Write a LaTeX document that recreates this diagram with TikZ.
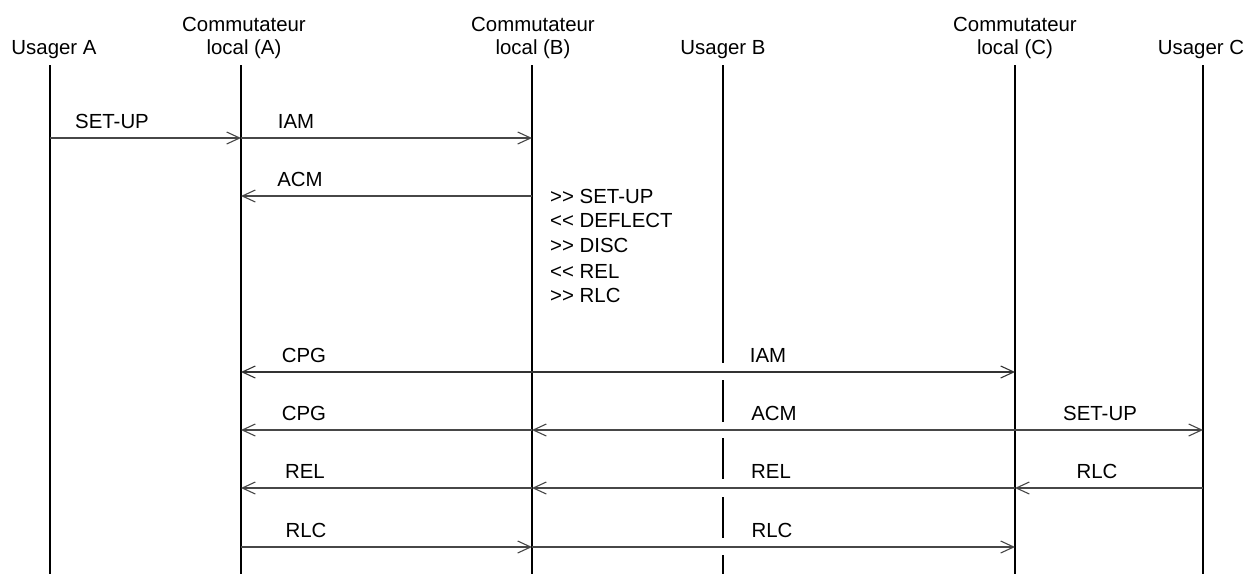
\documentclass[tikz,border=0pt]{standalone}
\usepackage{fontspec}
\setmainfont{Liberation Sans}
\usetikzlibrary{arrows.meta}
\begin{document}
\begin{tikzpicture}[x=1pt,y=-1pt,
  hdr/.style={anchor=base,inner sep=0pt,font=\fontsize{20.4}{24}\selectfont},
  lbl/.style={anchor=base,inner sep=0pt,font=\fontsize{20.4}{24}\selectfont},
  note/.style={anchor=base west,inner sep=0pt,font=\fontsize{20.4}{24}\selectfont},
  life/.style={line width=2pt,black},
  msg/.style={line width=1.1pt,black!72,-{Straight Barb[length=13pt,width=12pt,line width=1.1pt]}},
  msgboth/.style={line width=1.1pt,black!80,{Straight Barb[length=13pt,width=12pt,line width=1.1pt]}-{Straight Barb[length=13pt,width=12pt,line width=1.1pt]}}
]
\useasboundingbox (0,0) rectangle (1244,573);
% headers
\node[hdr] (hUA) at (54,54) {Usager A};
\node[hdr] (hCA1) at (244,31) {Commutateur};
\node[hdr] (hCA2) at (244,54) {local (A)};
\node[hdr] (hCB1) at (533,31) {Commutateur};
\node[hdr] (hCB2) at (533,54) {local (B)};
\node[hdr] (hUB) at (723,54) {Usager B};
\node[hdr] (hCC1) at (1015,31) {Commutateur};
\node[hdr] (hCC2) at (1015,54) {local (C)};
\node[hdr] (hUC) at (1201,54) {Usager C};
% lifeline coordinates
\foreach \n/\x in {UA/50,CA/241,CB/532,UB/723,CC/1015,UC/1203}{
  \coordinate (\n0) at (\x,65);
  \coordinate (\n1) at (\x,138);
  \coordinate (\n2) at (\x,196);
  \coordinate (\n5) at (\x,372);
  \coordinate (\n6) at (\x,430);
  \coordinate (\n7) at (\x,488);
  \coordinate (\n8) at (\x,547);
  \coordinate (\n9) at (\x,575);
}
% lifelines
\draw[life] (UA0) -- (UA9);
\draw[life] (CA0) -- (CA9);
\draw[life] (CB0) -- (CB9);
\draw[life] (CC0) -- (CC9);
\draw[life] (UC0) -- (UC9);
\draw[life] (UB0) -- ([yshift=9pt]UB5)
  ([yshift=-8pt]UB5) -- ([yshift=8pt]UB6)
  ([yshift=-8pt]UB6) -- ([yshift=9pt]UB7)
  ([yshift=-9pt]UB7) -- ([yshift=9pt]UB8)
  ([yshift=-8pt]UB8) -- (UB9);
% messages
\draw[msg] (UA1) -- (CA1);
\node[lbl] (l1) at (112,128.5) {SET-UP};
\draw[msg] (CA1) -- (CB1);
\node[lbl] (l2) at (296,128.5) {IAM};
\draw[msg] (CB2) -- (CA2);
\node[lbl] (l3) at (300,186) {ACM};
% notes
\node[note] (n1) at (550,203) {>\kern0pt> SET-UP};
\node[note] (n2) at (550,227.5) {<\kern0pt< DEFLECT};
\node[note] (n3) at (550,252.5) {>\kern0pt> DISC};
\node[note] (n4) at (550,278) {<\kern0pt< REL};
\node[note] (n5) at (550,302.5) {>\kern0pt> RLC};
% row 5
\draw[msgboth] (CA5) -- (CC5);
\node[lbl] (l5a) at (304,362) {CPG};
\node[lbl] (l5b) at (768,362) {IAM};
% row 6
\draw[msg] (CB6) -- (CA6);
\draw[msg] (CC6) -- (CB6);
\draw[msg] (CC6) -- (UC6);
\node[lbl] (l6a) at (304,420) {CPG};
\node[lbl] (l6b) at (774,420) {ACM};
\node[lbl] (l6c) at (1100,420) {SET-UP};
% row 7
\draw[msg] (CB7) -- (CA7);
\draw[msg] (CC7) -- (CB7);
\draw[msg] (UC7) -- (CC7);
\node[lbl] (l7a) at (305,478) {REL};
\node[lbl] (l7b) at (771,478) {REL};
\node[lbl] (l7c) at (1097,478) {RLC};
% row 8
\draw[msg] (CA8) -- (CB8);
\draw[msg] (CB8) -- (CC8);
\node[lbl] (l8a) at (306,537) {RLC};
\node[lbl] (l8b) at (772,537) {RLC};
\end{tikzpicture}
\end{document}
